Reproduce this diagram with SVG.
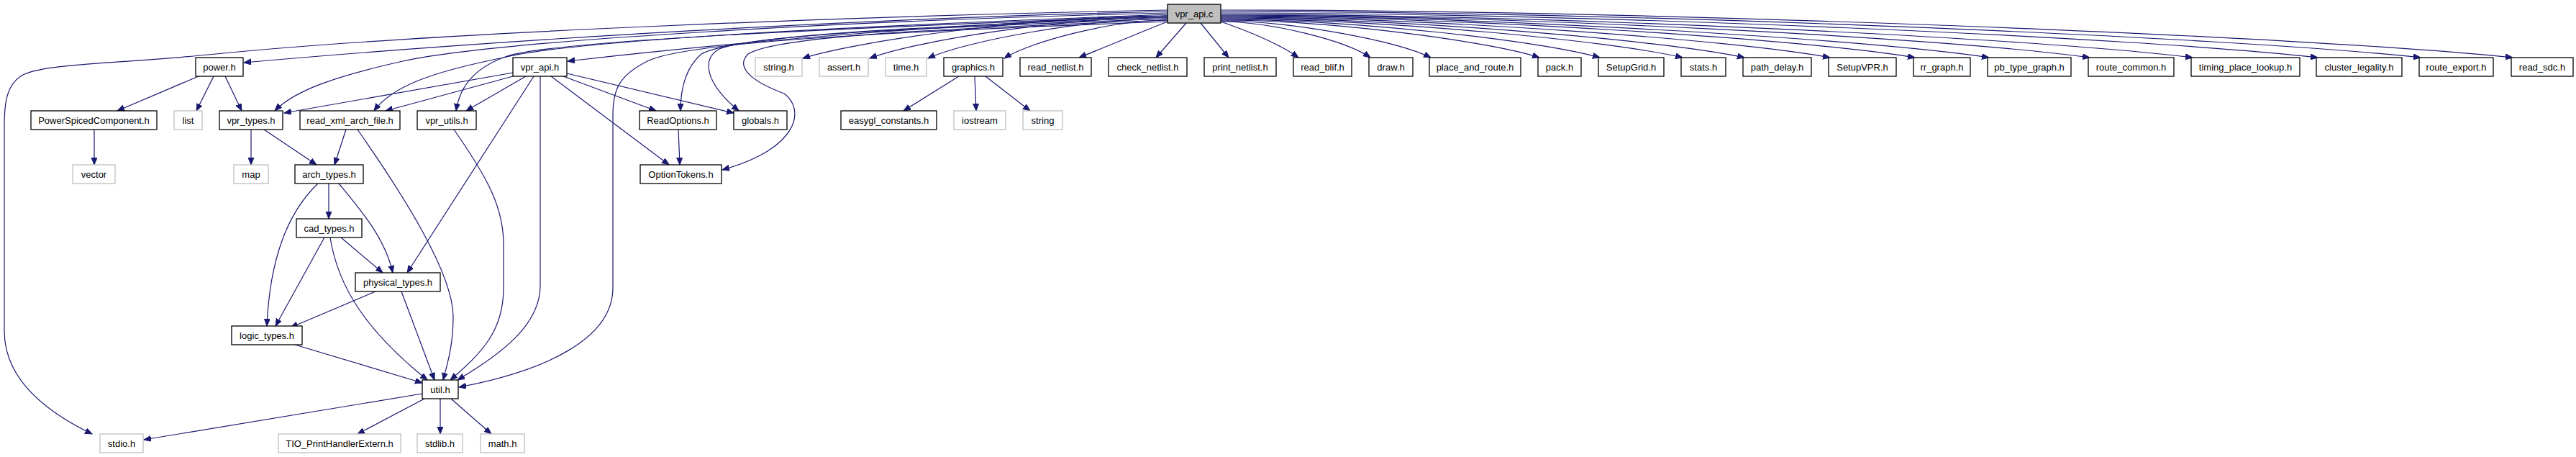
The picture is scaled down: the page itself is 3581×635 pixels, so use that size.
<svg xmlns="http://www.w3.org/2000/svg" width="3581" height="635" viewBox="0 0 3581 635">
<defs>
<marker id="a" markerUnits="userSpaceOnUse" markerWidth="11" markerHeight="9" refX="10" refY="4" orient="auto"><path d="M0,0 L10,4 L0,8 z" fill="#191970" stroke="#191970" stroke-width="1"/></marker>
<style>
.n rect{fill:#fff;stroke:#000;stroke-width:1.3}
.g rect{fill:#fff;stroke:#bfbfbf;stroke-width:1.3}
.r rect{fill:#bfbfbf;stroke:#000;stroke-width:1.3}
text{font-family:"Liberation Sans",Arial,Helvetica,sans-serif;font-size:13px;text-anchor:middle;fill:#000}
#edges path{fill:none;stroke:#191970;stroke-width:1.2;marker-end:url(#a)}
</style>
</defs>
<rect width="3581" height="635" fill="#fff"/>
<g id="edges">
<path d="M1623,14 C1200,22 600,45 300,75 C150,90 60,88 30,105 C10,118 6,140 6,175 L6,460 C6,530 70,575 128,603"/>
<path d="M1623,16 C1200,25 700,55 339,87"/>
<path d="M1623,18 C1200,28 700,55 560,85 C470,105 410,125 382,154"/>
<path d="M1623,20 C1200,36 800,55 700,80 C600,100 545,120 520,154"/>
<path d="M1623,22 C1200,38 780,55 705,78 C665,92 640,115 634,154"/>
<path d="M1623,22 C1350,32 1050,55 789,85"/>
<path d="M1623,24 C1250,38 1020,50 975,75 C952,95 946,125 946,154"/>
<path d="M1623,26 C1300,38 1050,48 1000,68 C975,82 980,115 1027,154"/>
<path d="M1623,28 C1300,40 1080,50 1040,75 C1020,95 1050,115 1090,130 C1118,150 1115,205 1004,236"/>
<path d="M1623,30 C1200,45 950,60 900,85 C860,105 852,125 852,160 L852,400 C852,470 760,515 638,538"/>
<path d="M1623,22 C1451,22 1198,55 1116,81"/>
<path d="M1623,24 C1482,24 1275,56 1209,81"/>
<path d="M1623,26 C1510,26 1343,57 1290,81"/>
<path d="M1623,28 C1546,28 1432,58 1396,81"/>
<path d="M1623,30 C1585,45 1545,62 1500,80"/>
<path d="M1649,32 L1607,80"/>
<path d="M1669,32 L1708,80"/>
<path d="M1697,30 C1740,45 1780,62 1805,80"/>
<path d="M1697,30 C1768,30 1872,57 1905,80"/>
<path d="M1697,29 C1796,29 1942,57 1989,80"/>
<path d="M1697,28 C1848,28 2069,57 2140,80"/>
<path d="M1697,27 C1876,27 2140,56 2224,80"/>
<path d="M1697,26 C1915,26 2236,56 2339,80"/>
<path d="M1697,25 C1945,25 2309,55 2425,80"/>
<path d="M1697,24 C1985,24 2408,55 2544,80"/>
<path d="M1697,23 C2025,23 2508,54 2662,80"/>
<path d="M1697,22 C2060,22 2594,54 2765,80"/>
<path d="M1697,21 C2108,21 2712,53 2905,80"/>
<path d="M1697,20 C2156,20 2832,53 3048,80"/>
<path d="M1697,18 C2216,18 2978,52 3222,80"/>
<path d="M1697,16 C2264,16 3098,51 3365,80"/>
<path d="M1697,14 C2308,14 3206,50 3493,80"/>
<path d="M713,101 L395,157"/>
<path d="M713,106 L536,154"/>
<path d="M731,106 L648,154"/>
<path d="M742,106 L566,379"/>
<path d="M751,106 L751,397 C751,450 700,490 636,528"/>
<path d="M766,106 L930,229"/>
<path d="M783,106 L912,154"/>
<path d="M788,102 L1020,157"/>
<path d="M276,106 L163,154"/>
<path d="M297,106 L273,154"/>
<path d="M313,106 L336,154"/>
<path d="M131,180 L131,229"/>
<path d="M349,180 L349,229"/>
<path d="M367,180 L440,229"/>
<path d="M481,180 L465,229"/>
<path d="M497,180 C560,270 630,380 630,440 C630,480 622,505 616,528"/>
<path d="M631,180 C680,250 700,290 700,340 L700,400 C700,460 670,490 626,528"/>
<path d="M943,180 L945,229"/>
<path d="M1333,106 L1256,154"/>
<path d="M1355,106 L1357,154"/>
<path d="M1370,106 L1432,154"/>
<path d="M457,255 L457,304"/>
<path d="M471,255 C500,290 535,330 546,379"/>
<path d="M442,255 C400,295 375,360 371,453"/>
<path d="M474,330 L532,379"/>
<path d="M451,330 L383,453"/>
<path d="M459,330 C470,400 510,460 594,528"/>
<path d="M522,405 L404,455"/>
<path d="M558,405 L604,528"/>
<path d="M410,479 L587,532"/>
<path d="M587,547 L200,611"/>
<path d="M590,554 L497,603"/>
<path d="M612,554 L612,603"/>
<path d="M627,554 L683,603"/>
</g>
<g id="n_vpr_api_c" class="r"><rect x="1623" y="6" width="74" height="26"/><text x="1660" y="24">vpr_api.c</text></g>
<g id="n_power_h" class="n"><rect x="272" y="80" width="66" height="26"/><text x="305" y="98">power.h</text></g>
<g id="n_vpr_api_h" class="n"><rect x="713" y="80" width="75" height="26"/><text x="750.5" y="98">vpr_api.h</text></g>
<g id="n_string_h" class="g"><rect x="1050" y="80" width="65" height="26"/><text x="1082.5" y="98">string.h</text></g>
<g id="n_assert_h" class="g"><rect x="1139" y="80" width="68" height="26"/><text x="1173" y="98">assert.h</text></g>
<g id="n_time_h" class="g"><rect x="1231" y="80" width="57" height="26"/><text x="1259.5" y="98">time.h</text></g>
<g id="n_graphics_h" class="n"><rect x="1312" y="80" width="82" height="26"/><text x="1353" y="98">graphics.h</text></g>
<g id="n_read_netlist_h" class="n"><rect x="1418" y="80" width="99" height="26"/><text x="1467.5" y="98">read_netlist.h</text></g>
<g id="n_check_netlist_h" class="n"><rect x="1541" y="80" width="109" height="26"/><text x="1595.5" y="98">check_netlist.h</text></g>
<g id="n_print_netlist_h" class="n"><rect x="1674" y="80" width="100" height="26"/><text x="1724" y="98">print_netlist.h</text></g>
<g id="n_read_blif_h" class="n"><rect x="1798" y="80" width="81" height="26"/><text x="1838.5" y="98">read_blif.h</text></g>
<g id="n_draw_h" class="n"><rect x="1903" y="80" width="61" height="26"/><text x="1933.5" y="98">draw.h</text></g>
<g id="n_place_and_route_h" class="n"><rect x="1987" y="80" width="127" height="26"/><text x="2050.5" y="98">place_and_route.h</text></g>
<g id="n_pack_h" class="n"><rect x="2138" y="80" width="60" height="26"/><text x="2168" y="98">pack.h</text></g>
<g id="n_SetupGrid_h" class="n"><rect x="2222" y="80" width="91" height="26"/><text x="2267.5" y="98">SetupGrid.h</text></g>
<g id="n_stats_h" class="n"><rect x="2337" y="80" width="62" height="26"/><text x="2368" y="98">stats.h</text></g>
<g id="n_path_delay_h" class="n"><rect x="2423" y="80" width="95" height="26"/><text x="2470.5" y="98">path_delay.h</text></g>
<g id="n_SetupVPR_h" class="n"><rect x="2542" y="80" width="94" height="26"/><text x="2589" y="98">SetupVPR.h</text></g>
<g id="n_rr_graph_h" class="n"><rect x="2660" y="80" width="79" height="26"/><text x="2699.5" y="98">rr_graph.h</text></g>
<g id="n_pb_type_graph_h" class="n"><rect x="2763" y="80" width="116" height="26"/><text x="2821" y="98">pb_type_graph.h</text></g>
<g id="n_route_common_h" class="n"><rect x="2903" y="80" width="119" height="26"/><text x="2962.5" y="98">route_common.h</text></g>
<g id="n_timing_place_lookup_h" class="n"><rect x="3046" y="80" width="151" height="26"/><text x="3121.5" y="98">timing_place_lookup.h</text></g>
<g id="n_cluster_legality_h" class="n"><rect x="3220" y="80" width="119" height="26"/><text x="3279.5" y="98">cluster_legality.h</text></g>
<g id="n_route_export_h" class="n"><rect x="3363" y="80" width="103" height="26"/><text x="3414.5" y="98">route_export.h</text></g>
<g id="n_read_sdc_h" class="n"><rect x="3491" y="80" width="86" height="26"/><text x="3534" y="98">read_sdc.h</text></g>
<g id="n_PowerSpicedComponent_h" class="n"><rect x="43" y="154" width="175" height="26"/><text x="130.5" y="172">PowerSpicedComponent.h</text></g>
<g id="n_list" class="g"><rect x="242" y="154" width="39" height="26"/><text x="261.5" y="172">list</text></g>
<g id="n_vpr_types_h" class="n"><rect x="305" y="154" width="88" height="26"/><text x="349" y="172">vpr_types.h</text></g>
<g id="n_read_xml_arch_file_h" class="n"><rect x="417" y="154" width="139" height="26"/><text x="486.5" y="172">read_xml_arch_file.h</text></g>
<g id="n_vpr_utils_h" class="n"><rect x="580" y="154" width="82" height="26"/><text x="621" y="172">vpr_utils.h</text></g>
<g id="n_ReadOptions_h" class="n"><rect x="889" y="154" width="107" height="26"/><text x="942.5" y="172">ReadOptions.h</text></g>
<g id="n_globals_h" class="n"><rect x="1020" y="154" width="74" height="26"/><text x="1057" y="172">globals.h</text></g>
<g id="n_easygl_constants_h" class="n"><rect x="1169" y="154" width="133" height="26"/><text x="1235.5" y="172">easygl_constants.h</text></g>
<g id="n_iostream" class="g"><rect x="1326" y="154" width="72" height="26"/><text x="1362" y="172">iostream</text></g>
<g id="n_string" class="g"><rect x="1422" y="154" width="55" height="26"/><text x="1449.5" y="172">string</text></g>
<g id="n_vector" class="g"><rect x="101" y="229" width="59" height="26"/><text x="130.5" y="247">vector</text></g>
<g id="n_map" class="g"><rect x="325" y="229" width="48" height="26"/><text x="349" y="247">map</text></g>
<g id="n_arch_types_h" class="n"><rect x="410" y="229" width="95" height="26"/><text x="457.5" y="247">arch_types.h</text></g>
<g id="n_OptionTokens_h" class="n"><rect x="890" y="229" width="113" height="26"/><text x="946.5" y="247">OptionTokens.h</text></g>
<g id="n_cad_types_h" class="n"><rect x="412" y="304" width="91" height="26"/><text x="457.5" y="322">cad_types.h</text></g>
<g id="n_physical_types_h" class="n"><rect x="494" y="379" width="118" height="26"/><text x="553" y="397">physical_types.h</text></g>
<g id="n_logic_types_h" class="n"><rect x="322" y="453" width="98" height="26"/><text x="371" y="471">logic_types.h</text></g>
<g id="n_util_h" class="n"><rect x="587" y="528" width="50" height="26"/><text x="612" y="546">util.h</text></g>
<g id="n_stdio_h" class="g"><rect x="139" y="603" width="60" height="26"/><text x="169" y="621">stdio.h</text></g>
<g id="n_TIO_PrintHandlerExtern_h" class="g"><rect x="387" y="603" width="170" height="26"/><text x="472" y="621">TIO_PrintHandlerExtern.h</text></g>
<g id="n_stdlib_h" class="g"><rect x="580" y="603" width="63" height="26"/><text x="611.5" y="621">stdlib.h</text></g>
<g id="n_math_h" class="g"><rect x="668" y="603" width="61" height="26"/><text x="698.5" y="621">math.h</text></g>
</svg>
